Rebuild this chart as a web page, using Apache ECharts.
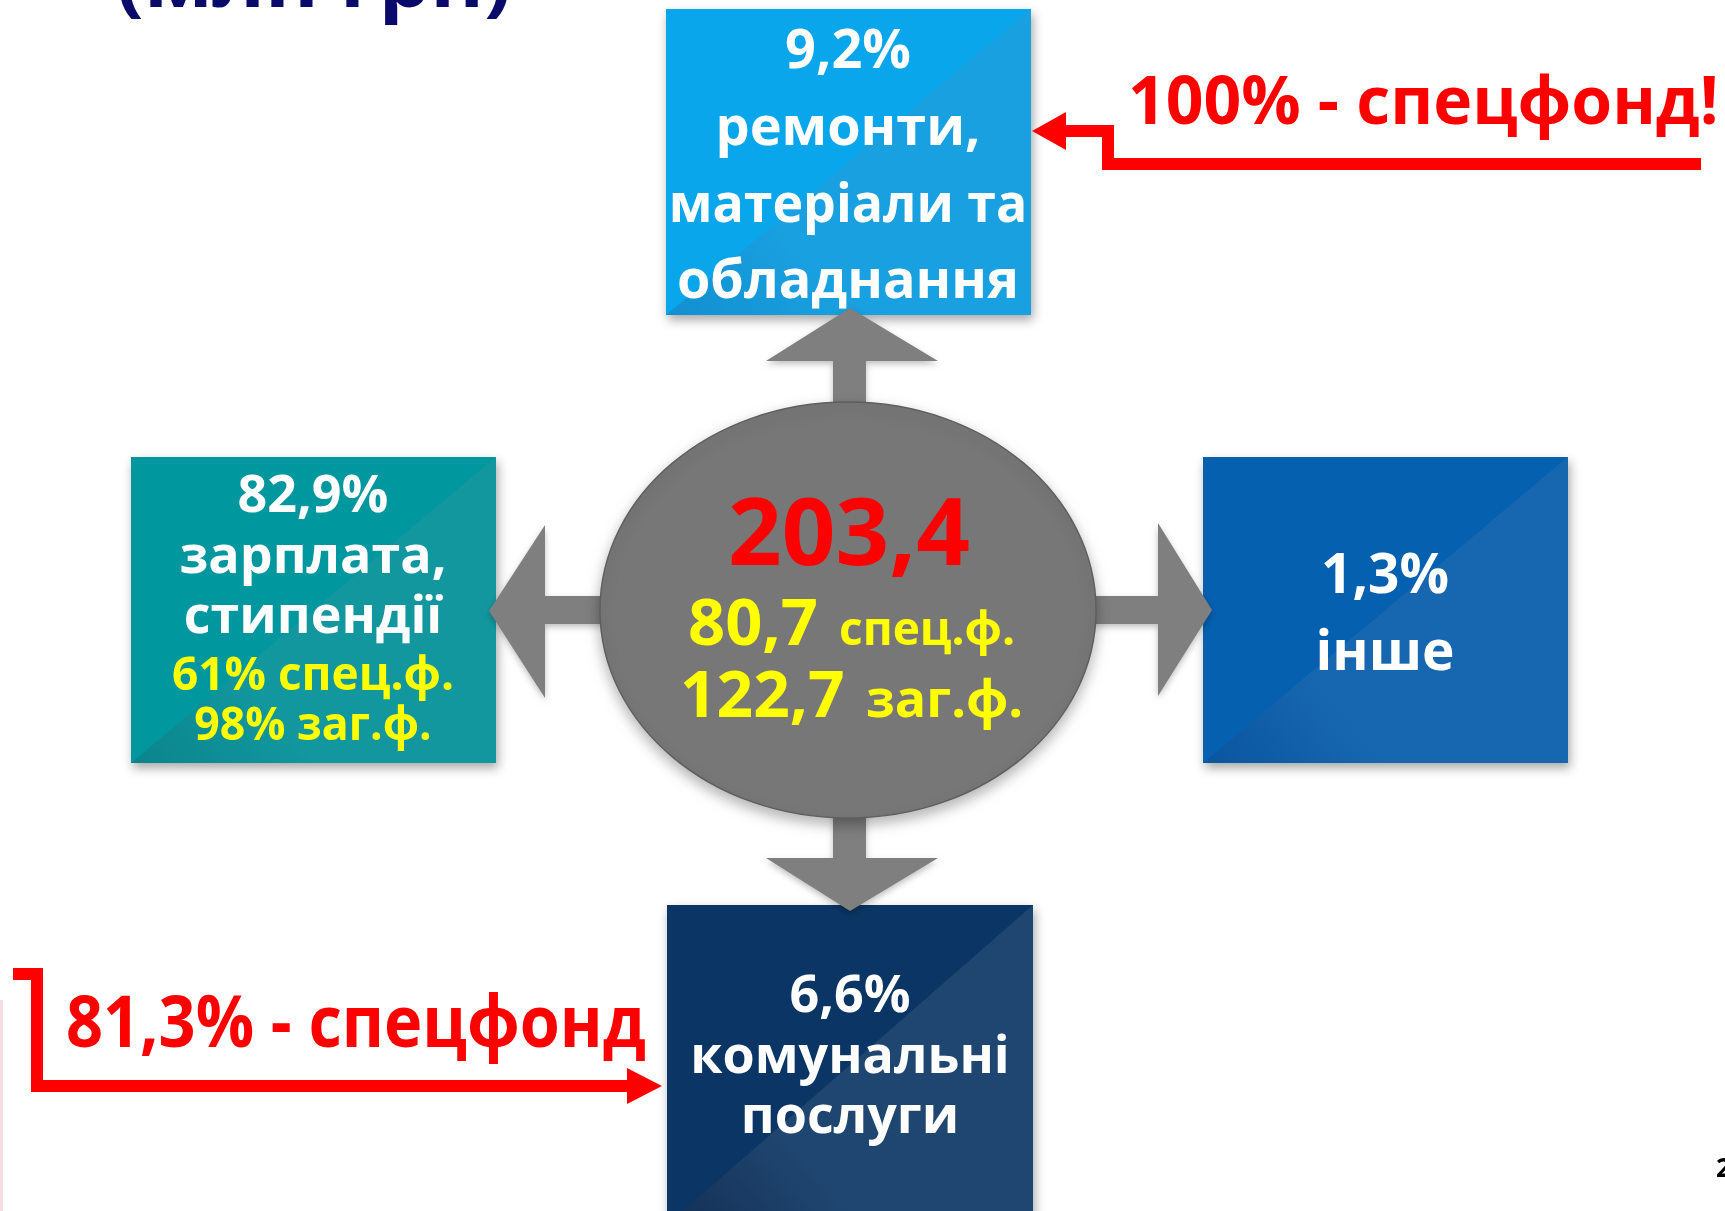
<!DOCTYPE html>
<html>
<head>
<meta charset="utf-8">
<script src="https://cdn.jsdelivr.net/npm/echarts@6/dist/echarts.min.js"></script>
<style>
  html, body { margin: 0; padding: 0; background: #fff; }
  #chart { width: 1725px; height: 1211px; }
</style>
</head>
<body>
<div id="chart"></div>
<script>
// дані зі слайду
const titleText = '(млн грн)';
const totalValue = '203,4';
const fundValues = ['80,7', '122,7'];
const fundNames = ['спец.ф.', 'заг.ф.'];
// порядок: ліворуч, вгорі, праворуч, внизу
const sharePercents = ['82,9%', '9,2%', '1,3%', '6,6%'];
const shareLabels = [
  ['зарплата,', 'стипендії'],
  ['ремонти,', 'матеріали та', 'обладнання'],
  ['інше'],
  ['комунальні', 'послуги']
];
const salaryFundShares = ['61% спец.ф.', '98% заг.ф.'];
const specialFundNotes = ['100% - спецфонд!', '81,3% - спецфонд'];
const pageNumber = '2';

const FONT = '"Open Sans", "Noto Sans", sans-serif';
const WHITE = '#ffffff';
const YELLOW = '#ffff00';
const RED = '#ff0000';
const GREY = '#7f7f7f';

// текст за базовою лінією
function txt(text, x, base, size, color, align, sx, shadow) {
  const el = {
    type: 'text',
    x: x,
    y: base - 0.28 * size,
    scaleX: sx || 1,
    z: 20,
    style: {
      text: text,
      font: 'bold ' + size + 'px ' + FONT,
      fill: color,
      textAlign: align || 'center',
      textVerticalAlign: 'middle'
    }
  };
  if (shadow !== false) {
    el.style.shadowColor = 'rgba(0,0,0,0.5)';
    el.style.shadowBlur = 4;
    el.style.shadowOffsetX = 2;
    el.style.shadowOffsetY = 2;
  }
  return el;
}

function box(b) {
  return [
    {
      type: 'rect', z: 2,
      shape: { x: b.x, y: b.y, width: b.w, height: b.h },
      style: {
        fill: b.c1, shadowBlur: 10, shadowOffsetX: 2, shadowOffsetY: 5,
        shadowColor: 'rgba(0,0,0,0.35)'
      }
    },
    {
      type: 'polygon', z: 3,
      shape: { points: [[b.x, b.y + b.h], [b.x + b.w, b.y + b.h], [b.x + b.w, b.y]] },
      style: {
        fill: {
          type: 'linear', x: 0, y: 1, x2: 1, y2: 0,
          colorStops: [
            { offset: 0, color: b.c0 },
            { offset: 0.3, color: b.c2 },
            { offset: 1, color: b.c2 }
          ]
        }
      }
    }
  ];
}

const boxes = [
  { x: 131, y: 457, w: 365, h: 306, c1: '#00979f', c2: '#12979f', c0: '#0a848c' },
  { x: 666, y: 9, w: 365, h: 306, c1: '#0aa6ec', c2: '#19a0e0', c0: '#128fd0' },
  { x: 1203, y: 457, w: 365, h: 306, c1: '#0560b0', c2: '#1767b0', c0: '#0a55a0' },
  { x: 667, y: 905, w: 366, h: 320, c1: '#0b3564', c2: '#1f4670', c0: '#142f55' }
];

const elements = [];

// заголовок (обрізаний зверху)
elements.push(txt(titleText, 314, 7, 76, '#0a0a6b', 'center', 1.07, false));

// слабка смуга по лівому краю
elements.push({
  type: 'line', z: 1,
  shape: { x1: 1.5, y1: 1000, x2: 1.5, y2: 1211 },
  style: { stroke: 'rgba(205,90,110,0.2)', lineWidth: 3 }
});

boxes.forEach(b => box(b).forEach(e => elements.push(e)));

// сірі стрілки
const arrows = [
  [[833, 410], [833, 361], [766, 361], [850, 308], [938, 361], [866, 361], [866, 410]],
  [[833, 810], [833, 858], [766, 858], [850, 911], [938, 858], [866, 858], [866, 810]],
  [[610, 596], [545, 596], [545, 525], [489, 611], [545, 698], [545, 624], [610, 624]],
  [[1090, 596], [1158, 596], [1158, 523], [1212, 610], [1158, 696], [1158, 624], [1090, 624]]
];
arrows.forEach(p => elements.push({
  type: 'polygon', z: 5, shape: { points: p },
  style: { fill: GREY, shadowBlur: 6, shadowOffsetY: 3, shadowColor: 'rgba(0,0,0,0.25)' }
}));

// центральний еліпс
elements.push({
  type: 'ellipse', z: 6,
  shape: { cx: 848, cy: 610, rx: 248, ry: 208 },
  style: {
    fill: '#777777', stroke: '#5f5f5f', lineWidth: 1.5,
    shadowBlur: 14, shadowOffsetY: 6, shadowColor: 'rgba(0,0,0,0.3)'
  }
});

// червоні стрілки-виноски
elements.push({
  type: 'polyline', z: 8,
  shape: { points: [[1701, 164], [1108, 164], [1108, 131], [1066, 131]] },
  style: { stroke: RED, lineWidth: 12, lineJoin: 'miter', fill: null }
});
elements.push({
  type: 'polygon', z: 8,
  shape: { points: [[1066, 112], [1066, 150], [1032, 131]] },
  style: { fill: RED }
});
elements.push({
  type: 'polyline', z: 8,
  shape: { points: [[13, 974], [37, 974], [37, 1086], [627, 1086]] },
  style: { stroke: RED, lineWidth: 12, lineJoin: 'miter', fill: null }
});
elements.push({
  type: 'polygon', z: 8,
  shape: { points: [[627, 1068], [627, 1104], [662, 1086]] },
  style: { fill: RED }
});

// тексти в блоках
// ліворуч
elements.push(txt(sharePercents[0], 313, 512, 52, WHITE));
elements.push(txt(shareLabels[0][0], 313, 573, 52, WHITE));
elements.push(txt(shareLabels[0][1], 313, 633, 52, WHITE));
elements.push(txt(salaryFundShares[0], 313, 690, 46, YELLOW));
elements.push(txt(salaryFundShares[1], 313, 740, 46, YELLOW, 'center', 0.97));
// вгорі
elements.push(txt(sharePercents[1], 848, 68, 54, WHITE));
elements.push(txt(shareLabels[1][0], 848, 145, 54, WHITE));
elements.push(txt(shareLabels[1][1], 848, 222, 54, WHITE, 'center', 0.96));
elements.push(txt(shareLabels[1][2], 848, 298, 54, WHITE));
// праворуч
elements.push(txt(sharePercents[2], 1385, 593, 55, WHITE));
elements.push(txt(shareLabels[2][0], 1385, 670, 55, WHITE));
// внизу
elements.push(txt(sharePercents[3], 850, 1012, 52, WHITE));
elements.push(txt(shareLabels[3][0], 850, 1073, 52, WHITE));
elements.push(txt(shareLabels[3][1], 850, 1133, 52, WHITE));

// центр
elements.push(txt(totalValue, 849, 565, 94, RED));
elements.push(txt(fundValues[0], 688, 645, 65, YELLOW, 'left'));
elements.push(txt(fundNames[0], 839, 645, 46, YELLOW, 'left'));
elements.push(txt(fundValues[1], 680, 717, 64, YELLOW, 'left'));
elements.push(txt(fundNames[1], 866, 717, 52, YELLOW, 'left'));

// червоні написи
elements.push(txt(specialFundNotes[0], 1128, 124, 66, RED, 'left', 1, false));
elements.push(txt(specialFundNotes[1], 66, 1047, 72, RED, 'left', 0.9, false));

// номер сторінки
elements.push(txt(pageNumber, 1716, 1177, 26, '#000000', 'left', 1, false));

const chart = echarts.init(document.getElementById('chart'), null, { renderer: 'canvas' });
chart.setOption({
  animation: false,
  graphic: { elements: elements }
});
window.addEventListener('resize', () => chart.resize());
</script>
</body>
</html>
